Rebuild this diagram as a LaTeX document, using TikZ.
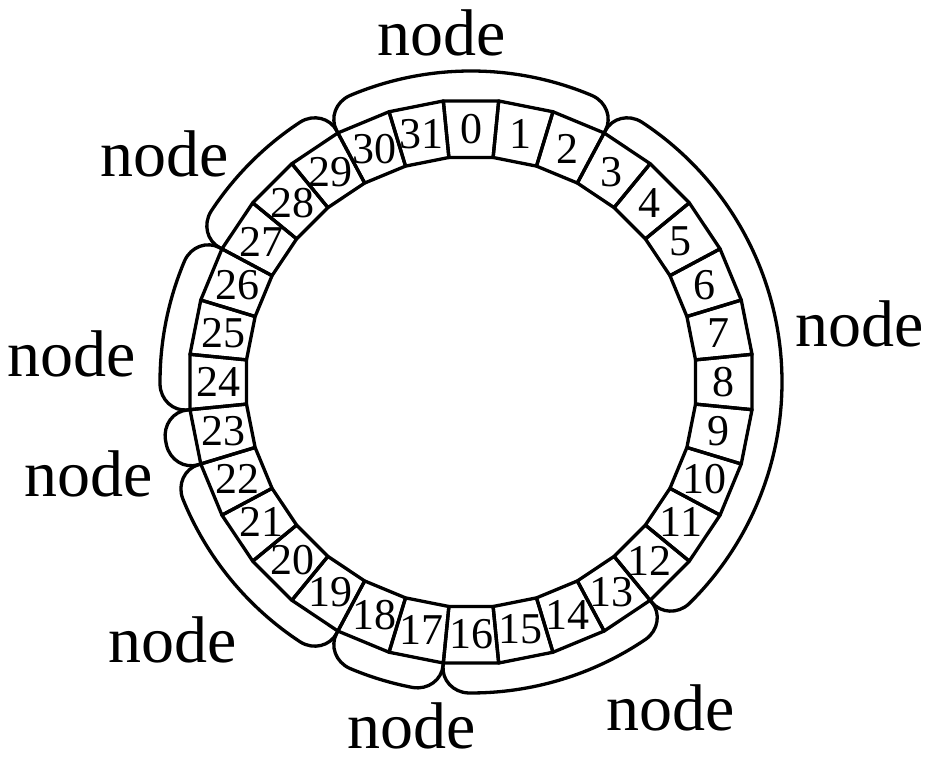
\documentclass[tikz,border=0pt]{standalone}
\usepackage{fontspec}
\setmainfont{Liberation Serif}
\newcommand\grpoutline[2]{%
  \pgfmathsetmacro\ga{#1-5.16}\pgfmathsetmacro\gb{#2+5.16}%
  \pgfmathsetmacro\gc{#1-2.31}\pgfmathsetmacro\gd{#2+2.31}%
  \draw (#1:\Ro) -- (#1:285) .. controls (#1:299.4) and (\gc:311) .. (\ga:311)
    arc[start angle=\ga, end angle=\gb, radius=311]
    .. controls (\gd:311) and (#2:299.4) .. (#2:285) -- (#2:\Ro);}
\begin{document}
\begin{tikzpicture}[x=1pt,y=1pt,line width=3.3pt,line join=round,
  num/.style={font=\fontsize{44}{46}\selectfont, inner sep=0pt},
  lbl/.style={font=\fontsize{66}{68}\selectfont, inner sep=0pt, anchor=base}]
\useasboundingbox (0,0) rectangle (925,757);
\begin{scope}[shift={(471,375)}]
\def\Ro{282.4}
\def\Ri{225.6}
\foreach \k in {0,...,31}{
  \pgfmathsetmacro\aa{95.625-11.25*\k}
  \pgfmathsetmacro\ab{\aa-11.25}
  \pgfmathsetmacro\am{\aa-5.625}
  \draw (\aa:\Ro) -- (\ab:\Ro) -- (\ab:\Ri) -- (\aa:\Ri) -- cycle;
  \node[num] (n\k) at (\am:252.5) {\k};
}
\grpoutline{118.125}{61.875}
\grpoutline{61.875}{-50.625}
\grpoutline{-50.625}{-95.625}
\grpoutline{-95.625}{-118.125}
\grpoutline{-118.125}{-163.125}
\grpoutline{-163.125}{-174.375}
\grpoutline{-174.375}{-208.125}
\grpoutline{-208.125}{-241.875}
\end{scope}
\node[lbl] (gtop) at (442,701) {node};
\node[lbl] (gright) at (860,410) {node};
\node[lbl] (gleft) at (72,380) {node};
\node[lbl] (gleftlow) at (89,260) {node};
\node[lbl] (gbotleft) at (173,95) {node};
\node[lbl] (gupleft) at (165,580) {node};
\node[lbl] (gbot) at (412,9) {node};
\node[lbl] (gbotright) at (671,27) {node};
\end{tikzpicture}
\end{document}
